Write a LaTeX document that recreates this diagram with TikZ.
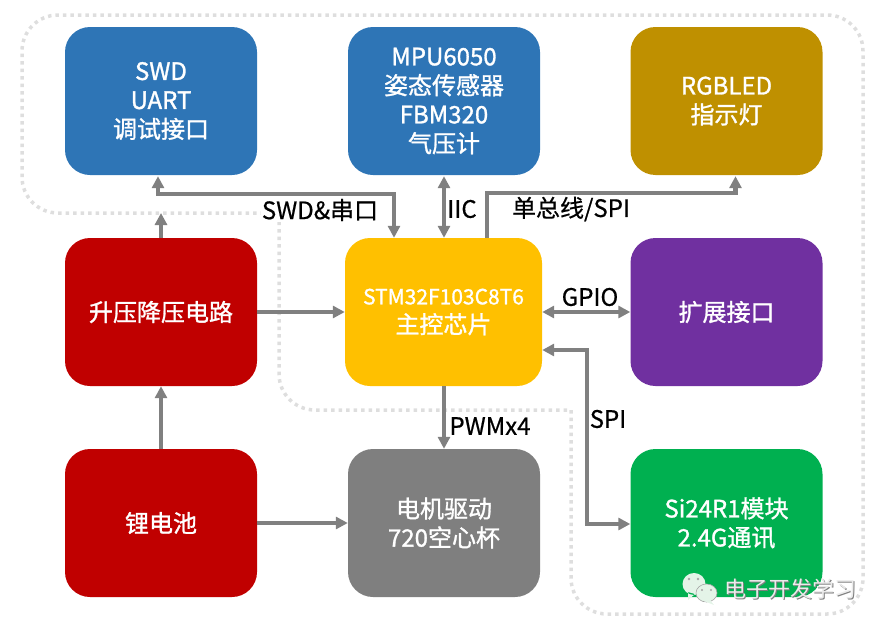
\documentclass[tikz,border=0pt]{standalone}
\usepackage{xcolor}
\usepackage{fontspec}
\setmainfont{Noto Sans CJK SC}
\newfontfamily\blockfont[FakeBold=1.2]{Noto Sans CJK SC}
\newfontfamily\tagfont[FakeBold=0.6]{Noto Sans CJK SC}
\usepackage{tikz}
\usetikzlibrary{calc}
\usetikzlibrary{arrows.meta}
\definecolor{swdblue}{HTML}{2E75B6}
\definecolor{ledgold}{HTML}{BF9000}
\definecolor{powerred}{HTML}{C00000}
\definecolor{mcuyellow}{HTML}{FFC000}
\definecolor{extpurple}{HTML}{7030A0}
\definecolor{motorgray}{HTML}{7F7F7F}
\definecolor{rfgreen}{HTML}{00B050}
\definecolor{linkgray}{HTML}{808080}
\definecolor{dotgray}{HTML}{DEDEDE}
\definecolor{bubble}{HTML}{E4F4E8}
\tikzset{>={Triangle[length=12pt,width=12pt]}}
\tikzstyle{block} = [draw=none, rounded corners=25pt, minimum width=192pt, minimum height=148pt, inner sep=0, align=center, text=white, font=\blockfont\fontsize{24}{29}\selectfont]
\tikzstyle{link} = [draw=linkgray, line width=4.3pt]
\tikzstyle{tag} = [draw=none, inner sep=1pt, fill=white, text=black, font=\tagfont\fontsize{24}{26}\selectfont]
\tikzstyle{zone} = [draw=dotgray, line width=3.5pt, dash pattern=on 3.5pt off 4pt]
\tikzstyle{wmark} = [draw=none, inner sep=0, font=\fontsize{22}{26}\selectfont]

\begin{document}
\begin{tikzpicture}[x=1pt, y=-1pt]
\useasboundingbox (0, 0) rectangle (885, 629);
%dotted zone
\draw [zone] (279, 213) [rounded corners=36pt] -- (22, 213) -- (22, 15) -- (863, 15) -- (863, 614) -- (571, 614) [sharp corners] -- (571, 410) [rounded corners=36pt] -- (279, 410) [sharp corners] -- (279, 213);
%blocks
\node [block, fill=swdblue] (swd) at (161, 101) {SWD\\UART\\调试接口};
\node [block, fill=swdblue] (imu) at (444, 101) {MPU6050\\姿态传感器\\FBM320\\气压计};
\node [block, fill=ledgold] (led) at (726.5, 101) {RGBLED\\指示灯};
\node [block, fill=powerred] (power) at (161, 312) {升压降压电路};
\node [block, fill=mcuyellow, minimum width=197pt] (mcu) at (443.5, 312) {{\fontsize{21}{29}\selectfont STM32F103C8T6}\\主控芯片};
\node [block, fill=extpurple] (ext) at (726.5, 312) {扩展接口};
\node [block, fill=powerred] (bat) at (161, 523) {锂电池};
\node [block, fill=motorgray] (motor) at (444, 523) {电机驱动\\720空心杯};
\node [block, fill=rfgreen] (rf) at (726.5, 523) {Si24R1模块\\2.4G通讯};
%links
\coordinate (dbg) at (394, 194);
\coordinate (boosttop) at (161, 213);
\coordinate (ledbus) at (487, 193);
\coordinate (spibus) at (587, 524);
\draw [link, <->] ([xshift=-3pt, yshift=-1pt]swd.south) |- (dbg) -- (dbg |- mcu.north);
\draw [link, ->] (power.north) -- (boosttop);
\draw [link, <->] ([yshift=-1pt]imu.south) -- (imu.south |- mcu.north);
\draw [link, ->] (ledbus |- mcu.north) -- (ledbus) -| ([xshift=9pt, yshift=-1pt]led.south);
\draw [link, ->] (power.east) -- (mcu.west);
\draw [link, <->] (mcu.east) -- (ext.west);
\draw [link, <->] ([yshift=-38pt]mcu.east) -| (spibus) -- (spibus -| rf.west);
\draw [link, ->] (motor.north |- mcu.south) -- (motor.north);
\draw [link, ->] (bat.north) -- (power.south);
\draw [link, ->] (bat.east) -- (motor.west);
%link labels
\node [tag] (swdtag) at (320, 210) {SWD\&串口};
\node [tag, fill=none] (iictag) at (462, 209) {IIC};
\node [tag, fill=none] (bustag) at (571, 209) {单总线/SPI};
\node [tag, fill=none] (gpiotag) at (590, 297) {GPIO};
\node [tag, fill=none] (spitag) at (608, 419) {SPI};
\node [tag, fill=none] (pwmtag) at (490, 426) {PWMx4};
%watermark
\fill [bubble] (694, 584) ellipse (11.5 and 11) (688, 592) -- (688, 600) -- (695, 594) -- cycle;
\filldraw [draw=gray!70, fill=bubble, line width=.6pt] (706.5, 593) ellipse (10.5 and 9);
\fill [bubble] (710, 600) -- (714, 605) -- (704, 601) -- cycle;
\fill [gray!70] (689, 579) circle (1.4) (698, 579) circle (1.4) (702, 590) circle (1.2) (711, 590) circle (1.2);
\node [wmark, text=gray] (markshadow) at (791.5, 590.5) {电子开发学习};
\node [wmark, text=white!92!black] (marktext) at (790.5, 589.5) {电子开发学习};
\end{tikzpicture}
\end{document}
